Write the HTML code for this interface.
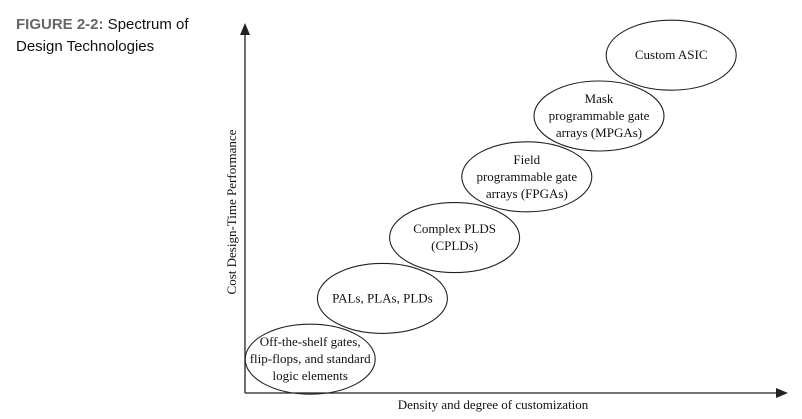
<!DOCTYPE html>
<html><head><meta charset="utf-8"><style>
body{margin:0;background:#fff;width:802px;height:419px;overflow:hidden;}
svg{display:block}
.t{font-family:"Liberation Serif",serif;font-size:13px;fill:#111;text-anchor:middle}
</style></head><body>
<svg width="802" height="419">
<text x="16" y="29" font-family="Liberation Sans,sans-serif" font-size="15" fill="#111"><tspan fill="#666" font-weight="bold">FIGURE 2-2:</tspan> Spectrum of</text>
<text x="16" y="51" font-family="Liberation Sans,sans-serif" font-size="15" fill="#111">Design Technologies</text>
<line x1="245" y1="30" x2="245" y2="393" stroke="#222" stroke-width="1.3"/>
<polygon points="245,23 240,35 250,35" fill="#222"/>
<line x1="245" y1="393" x2="780" y2="393" stroke="#222" stroke-width="1.3"/>
<polygon points="788,393 776,388 776,398" fill="#222"/>
<text class="t" x="0" y="0" transform="translate(236,212) rotate(-90)">Cost Design-Time Performance</text>
<text class="t" x="493" y="409">Density and degree of customization</text>
<g id="g"></g>
</svg>
<script>
const labels=[["Off-the-shelf gates,","flip-flops, and standard","logic elements"],["PALs, PLAs, PLDs"],["Complex PLDS","(CPLDs)"],["Field","programmable gate","arrays (FPGAs)"],["Mask","programmable gate","arrays (MPGAs)"],["Custom ASIC"]];
const density=[1,2,3,4,5,6];
const cost=[1,2,3,4,5,6];
const xf=d=>238+d*72.2, yf=c=>420-c*60.8;
const g=document.getElementById('g');
const ns="http://www.w3.org/2000/svg";
labels.forEach((L,i)=>{
 const cx=xf(density[i]), cy=yf(cost[i]);
 const e=document.createElementNS(ns,'ellipse');
 e.setAttribute('cx',cx);e.setAttribute('cy',cy);e.setAttribute('rx',65);e.setAttribute('ry',35);
 e.setAttribute('fill','none');e.setAttribute('stroke','#222');e.setAttribute('stroke-width','1.1');
 
 
 g.appendChild(e);
 L.forEach((s,j)=>{
  const t=document.createElementNS(ns,'text');
  t.setAttribute('class','t');t.setAttribute('x',cx);
  t.setAttribute('y',cy+4+(j-(L.length-1)/2)*17);
  t.textContent=s;
  
  
  g.appendChild(t);
 });
});
</script>
</body></html>
